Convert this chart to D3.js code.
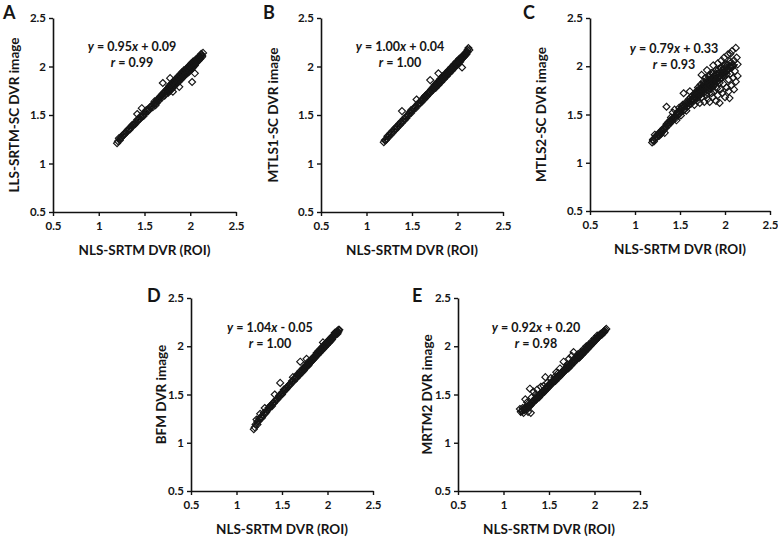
<!DOCTYPE html>
<html><head><meta charset="utf-8">
<script src="https://cdn.jsdelivr.net/npm/d3@7/dist/d3.min.js"></script>
<style>
body{margin:0;background:#fff;}
svg{display:block;}
text{font-family:Lato,"Open Sans",sans-serif;fill:#151515;}
</style></head>
<body>
<script>
// ---------- data ----------
const tickValues = [0.5, 1, 1.5, 2, 2.5];
const tickLabels = ["0.5", "1", "1.5", "2", "2.5"];
const xTitle = "NLS-SRTM DVR (ROI)";
const panelLetters = ["A", "B", "C", "D", "E"];
const yTitles = ["LLS-SRTM-SC DVR image", "MTLS1-SC DVR image", "MTLS2-SC DVR image", "BFM DVR image", "MRTM2 DVR image"];
const slopes = ["0.95", "1.00", "0.79", "1.04", "0.92"];
const intercepts = ["+ 0.09", "+ 0.04", "+ 0.33", "- 0.05", "+ 0.20"];
const rValues = ["0.99", "1.00", "0.93", "1.00", "0.98"];
const fitRangeX = [[1.20, 2.14], [1.19, 2.13], [1.19, 2.14], [1.19, 2.13], [1.18, 2.13]];

const pointsA = [[1.20,1.21],[1.21,1.23],[1.23,1.24],[1.25,1.27],[1.26,1.29],[1.28,1.30],[1.30,1.32],[1.31,1.34],[1.33,1.35],[1.35,1.37],[1.36,1.39],[1.38,1.40],[1.40,1.41],[1.41,1.43],[1.42,1.51],[1.43,1.45],[1.45,1.46],[1.46,1.48],[1.47,1.57],[1.48,1.49],[1.50,1.51],[1.51,1.53],[1.53,1.54],[1.55,1.56],[1.56,1.58],[1.58,1.59],[1.60,1.61],[1.61,1.62],[1.62,1.60],[1.63,1.64],[1.65,1.66],[1.66,1.67],[1.68,1.69],[1.69,1.71],[1.70,1.83],[1.71,1.72],[1.72,1.70],[1.73,1.74],[1.74,1.76],[1.75,1.75],[1.76,1.78],[1.77,1.76],[1.78,1.88],[1.78,1.79],[1.79,1.78],[1.80,1.81],[1.80,1.79],[1.81,1.74],[1.81,1.82],[1.82,1.81],[1.83,1.83],[1.83,1.85],[1.84,1.84],[1.85,1.86],[1.85,1.83],[1.86,1.85],[1.87,1.88],[1.87,1.86],[1.88,1.87],[1.88,1.79],[1.89,1.89],[1.89,1.91],[1.90,1.88],[1.91,1.90],[1.91,1.92],[1.92,1.91],[1.93,1.93],[1.94,1.92],[1.94,1.95],[1.95,1.94],[1.96,1.96],[1.97,1.95],[1.97,1.98],[1.98,1.97],[1.99,1.99],[2.00,1.98],[2.00,2.01],[2.01,2.00],[2.02,1.84],[2.02,2.02],[2.03,2.01],[2.04,2.04],[2.05,1.93],[2.05,2.03],[2.06,2.05],[2.07,2.06],[2.08,2.07],[2.09,2.09],[2.10,2.08],[2.11,2.10],[2.12,2.12],[2.13,2.11],[2.14,2.14],
[1.22,1.26],[1.24,1.26],[1.27,1.30],[1.29,1.31],[1.32,1.35],[1.34,1.35],[1.37,1.40],[1.39,1.40],[1.42,1.45],[1.44,1.45],[1.46,1.49],[1.49,1.49],[1.52,1.55],[1.54,1.54],[1.57,1.59],[1.59,1.58],[1.61,1.64],[1.63,1.62],[1.64,1.66],[1.66,1.65],[1.67,1.69],[1.69,1.68],[1.70,1.72],[1.72,1.74],[1.73,1.72],[1.75,1.77],[1.76,1.74],[1.77,1.79],[1.79,1.80],[1.80,1.78],[1.82,1.83],[1.82,1.79],[1.84,1.86],[1.84,1.82],[1.86,1.87],[1.86,1.84],[1.88,1.89],[1.88,1.86],[1.90,1.91],[1.90,1.87],[1.92,1.93],[1.92,1.89],[1.93,1.95],[1.95,1.92],[1.96,1.97],[1.97,1.94],[1.98,1.99],[1.99,1.96],[2.00,2.00],[2.01,1.98],[2.02,2.03],[2.03,2.00],[2.04,2.05],[2.05,2.02],[2.06,2.07],[2.07,2.04],[2.08,2.09],[2.09,2.06],[2.10,2.10],[2.11,2.08],[2.12,2.13],[2.13,2.10],[1.76,1.73],[1.78,1.75],[1.80,1.77],[1.81,1.79],[1.83,1.81],[1.85,1.82],[1.87,1.84],[1.89,1.86],[1.91,1.88],[1.93,1.90],[1.95,1.92],[1.97,1.93],[1.99,1.95],[2.01,1.97],[2.03,1.99],[2.05,2.01],[1.77,1.80],[1.79,1.82],[1.81,1.84],[1.83,1.86],[1.85,1.88],[1.87,1.90],[1.89,1.92],[1.91,1.94],[1.93,1.96],[1.95,1.97],[1.97,1.99],[1.99,2.01],[2.01,2.03],[2.03,2.05]];

const pointsB = [[1.19,1.22],[1.20,1.24],[1.22,1.25],[1.23,1.28],[1.25,1.29],[1.27,1.30],[1.28,1.33],[1.30,1.34],[1.32,1.35],[1.33,1.38],[1.35,1.39],[1.37,1.40],[1.38,1.43],[1.39,1.54],[1.40,1.44],[1.42,1.45],[1.43,1.48],[1.45,1.49],[1.46,1.50],[1.48,1.53],[1.49,1.55],[1.50,1.54],[1.52,1.57],[1.53,1.58],[1.55,1.66],[1.55,1.59],[1.57,1.62],[1.58,1.62],[1.60,1.64],[1.61,1.66],[1.63,1.66],[1.64,1.69],[1.65,1.70],[1.66,1.69],[1.68,1.73],[1.69,1.73],[1.70,1.86],[1.70,1.74],[1.71,1.76],[1.72,1.75],[1.73,1.78],[1.74,1.78],[1.75,1.80],[1.76,1.79],[1.77,1.82],[1.78,1.82],[1.79,1.93],[1.79,1.83],[1.80,1.85],[1.81,1.84],[1.82,1.87],[1.83,1.86],[1.84,1.89],[1.85,1.88],[1.86,1.91],[1.87,1.90],[1.88,1.93],[1.89,1.92],[1.90,1.95],[1.91,1.94],[1.92,1.97],[1.93,1.96],[1.94,1.99],[1.95,1.98],[1.96,2.01],[1.97,2.00],[1.98,2.03],[1.99,2.02],[2.00,2.05],[2.01,2.04],[2.02,2.07],[2.03,2.06],[2.04,2.09],[2.05,1.99],[2.05,2.08],[2.06,2.11],[2.07,2.10],[2.08,2.13],[2.09,2.12],[2.10,2.15],[2.11,2.15],[2.12,2.19],[2.13,2.17],
[1.21,1.24],[1.24,1.27],[1.26,1.31],[1.29,1.32],[1.31,1.36],[1.34,1.37],[1.36,1.41],[1.39,1.42],[1.41,1.46],[1.44,1.47],[1.47,1.52],[1.49,1.52],[1.51,1.56],[1.54,1.57],[1.56,1.61],[1.59,1.62],[1.61,1.64],[1.62,1.67],[1.64,1.67],[1.65,1.70],[1.67,1.70],[1.68,1.73],[1.70,1.73],[1.71,1.76],[1.72,1.77],[1.73,1.76],[1.74,1.79],[1.75,1.78],[1.76,1.81],[1.77,1.80],[1.78,1.83],[1.79,1.82],[1.80,1.83],[1.81,1.86],[1.82,1.85],[1.83,1.88],[1.84,1.87],[1.85,1.90],[1.86,1.89],[1.87,1.92],[1.88,1.91],[1.89,1.94],[1.90,1.93],[1.91,1.96],[1.92,1.95],[1.93,1.98],[1.94,1.97],[1.95,2.00],[1.96,1.99],[1.97,2.02],[1.98,2.01],[1.99,2.04],[2.00,2.03],[2.01,2.06],[2.02,2.05],[2.03,2.08],[2.04,2.07],[2.05,2.10],[2.06,2.09],[2.07,2.12],[2.08,2.11],[2.09,2.14],[2.10,2.13],[2.11,2.17],[1.75,1.81],[1.78,1.84],[1.81,1.87],[1.84,1.90],[1.87,1.93],[1.90,1.96],[1.93,1.99],[1.96,2.02],[1.99,2.05],[2.02,2.08],[1.76,1.78],[1.79,1.81],[1.82,1.84],[1.85,1.87],[1.88,1.90],[1.91,1.93],[1.94,1.96],[1.97,1.99],[2.00,2.02],[2.03,2.05]];

const pointsC = [[1.19,1.21],[1.20,1.24],[1.21,1.22],[1.22,1.29],[1.23,1.26],[1.25,1.27],[1.26,1.30],[1.27,1.28],[1.28,1.32],[1.29,1.30],[1.30,1.34],[1.31,1.33],[1.32,1.36],[1.33,1.31],[1.34,1.37],[1.35,1.40],[1.35,1.58],[1.36,1.38],[1.37,1.42],[1.38,1.40],[1.39,1.44],[1.40,1.47],[1.40,1.42],[1.41,1.43],[1.42,1.52],[1.43,1.46],[1.44,1.55],[1.45,1.48],[1.45,1.46],[1.46,1.44],[1.47,1.52],[1.48,1.50],[1.49,1.57],[1.50,1.53],[1.50,1.51],[1.51,1.49],[1.52,1.56],[1.53,1.60],[1.54,1.72],[1.54,1.55],[1.55,1.58],[1.55,1.55],[1.56,1.62],[1.57,1.54],[1.58,1.63],[1.58,1.58],[1.59,1.59],[1.60,1.66],[1.61,1.74],[1.61,1.61],[1.62,1.68],[1.62,1.61],[1.63,1.64],[1.64,1.70],[1.65,1.66],[1.66,1.60],[1.66,1.65],[1.67,1.72],[1.68,1.68],[1.69,1.75],[1.69,1.64],[1.70,1.78],[1.70,1.68],[1.71,1.70],[1.72,1.62],[1.72,1.74],[1.73,1.81],[1.73,1.71],[1.74,1.91],[1.74,1.68],[1.75,1.76],[1.76,1.72],[1.76,1.84],[1.76,1.75],[1.77,1.63],[1.77,1.79],[1.78,1.74],[1.78,1.88],[1.79,1.70],[1.79,1.77],[1.80,1.96],[1.80,1.78],[1.80,1.73],[1.81,1.66],[1.81,1.83],[1.82,1.75],[1.82,1.90],[1.82,1.80],[1.83,1.63],[1.83,1.80],[1.84,1.86],[1.84,1.79],[1.85,1.72],[1.85,1.93],[1.85,1.82],[1.86,1.78],[1.86,1.68],[1.87,2.01],[1.87,1.84],[1.87,1.80],[1.88,1.74],[1.88,1.90],[1.88,1.85],[1.89,1.81],[1.89,1.86],[1.90,1.64],[1.90,1.96],[1.91,1.86],[1.91,1.77],[1.91,1.88],[1.92,2.03],[1.92,1.70],[1.93,1.89],[1.94,1.62],[1.94,1.83],[1.94,1.90],[1.95,1.98],[1.95,1.76],[1.96,2.06],[1.96,1.88],[1.97,1.72],[1.97,1.92],[1.98,1.94],[1.98,1.82],[1.99,2.09],[2.00,1.68],[2.00,1.90],[2.00,1.95],[2.01,2.02],[2.02,1.78],[2.02,1.95],[2.03,2.12],[2.03,1.97],[2.04,1.74],[2.04,1.86],[2.05,2.05],[2.05,1.67],[2.06,2.13],[2.06,1.92],[2.06,2.00],[2.07,1.80],[2.08,1.99],[2.08,2.16],[2.09,1.88],[2.10,2.06],[2.10,1.76],[2.11,1.95],[2.12,2.19],[2.12,1.84],[2.13,2.09],[2.14,1.90],[2.14,2.02],
[1.20,1.23],[1.22,1.25],[1.24,1.27],[1.26,1.28],[1.28,1.30],[1.30,1.32],[1.32,1.34],[1.34,1.36],[1.36,1.40],[1.38,1.42],[1.40,1.44],[1.42,1.46],[1.44,1.48],[1.46,1.50],[1.48,1.53],[1.50,1.55],[1.52,1.58],[1.54,1.58],[1.56,1.60],[1.58,1.61],[1.60,1.63],[1.62,1.65],[1.64,1.67],[1.66,1.68],[1.67,1.70],[1.68,1.72],[1.70,1.73],[1.71,1.75],[1.72,1.77],[1.73,1.74],[1.74,1.77],[1.75,1.79],[1.76,1.78],[1.77,1.81],[1.78,1.80],[1.79,1.83],[1.80,1.81],[1.81,1.85],[1.82,1.82],[1.83,1.86],[1.84,1.83],[1.85,1.87],[1.86,1.84],[1.87,1.88],[1.88,1.87],[1.89,1.90],[1.90,1.86],[1.91,1.91],[1.92,1.88],[1.93,1.93],[1.94,1.87],[1.95,1.94],[1.96,1.91],[1.97,1.96],[1.98,1.90],[1.99,1.97],[2.00,1.93],[2.01,1.99],[2.02,1.92],[2.03,2.02],[2.04,1.97],[2.05,2.00],[2.07,2.04],[2.09,2.01],[1.76,1.82],[1.79,1.77],[1.82,1.78],[1.85,1.80],[1.88,1.83],[1.91,1.84],[1.84,1.91],[1.87,1.93],[1.90,1.92],[1.93,1.97],[1.96,1.98],[1.99,2.01],[1.80,1.86],[1.78,1.76],[1.72,1.71],[1.69,1.69],[1.65,1.66]];

const pointsD = [[1.19,1.14],[1.20,1.16],[1.22,1.24],[1.23,1.19],[1.24,1.22],[1.26,1.30],[1.26,1.25],[1.28,1.26],[1.29,1.28],[1.31,1.36],[1.31,1.30],[1.33,1.32],[1.34,1.34],[1.36,1.36],[1.37,1.37],[1.38,1.39],[1.40,1.41],[1.41,1.41],[1.42,1.50],[1.43,1.44],[1.44,1.45],[1.46,1.47],[1.47,1.48],[1.48,1.62],[1.49,1.50],[1.50,1.52],[1.52,1.53],[1.53,1.55],[1.55,1.56],[1.56,1.58],[1.58,1.60],[1.59,1.61],[1.61,1.63],[1.62,1.68],[1.62,1.64],[1.64,1.66],[1.65,1.67],[1.66,1.68],[1.67,1.70],[1.68,1.70],[1.69,1.71],[1.70,1.84],[1.70,1.72],[1.71,1.73],[1.72,1.74],[1.73,1.76],[1.74,1.76],[1.75,1.77],[1.76,1.79],[1.77,1.87],[1.77,1.79],[1.78,1.81],[1.79,1.81],[1.80,1.82],[1.81,1.84],[1.82,1.84],[1.83,1.86],[1.84,1.86],[1.85,1.88],[1.86,1.88],[1.87,1.90],[1.88,1.91],[1.89,1.92],[1.90,1.93],[1.91,1.94],[1.92,1.95],[1.93,1.96],[1.94,1.97],[1.95,2.04],[1.95,1.98],[1.96,1.99],[1.97,2.00],[1.98,2.01],[1.99,2.02],[2.00,2.03],[2.01,2.04],[2.02,2.05],[2.03,2.06],[2.04,2.07],[2.05,2.09],[2.06,2.10],[2.07,2.11],[2.08,2.12],[2.09,2.13],[2.10,2.14],[2.11,2.15],[2.12,2.15],[2.13,2.17],
[1.21,1.19],[1.23,1.22],[1.25,1.25],[1.27,1.27],[1.30,1.31],[1.32,1.31],[1.35,1.36],[1.37,1.38],[1.39,1.38],[1.42,1.43],[1.45,1.45],[1.47,1.49],[1.50,1.50],[1.52,1.55],[1.54,1.55],[1.57,1.59],[1.59,1.60],[1.61,1.64],[1.63,1.64],[1.64,1.67],[1.66,1.67],[1.67,1.71],[1.69,1.70],[1.70,1.74],[1.72,1.73],[1.73,1.77],[1.74,1.75],[1.75,1.79],[1.76,1.78],[1.78,1.83],[1.79,1.80],[1.80,1.84],[1.81,1.83],[1.82,1.86],[1.83,1.85],[1.84,1.88],[1.85,1.87],[1.86,1.90],[1.87,1.89],[1.88,1.93],[1.89,1.91],[1.90,1.95],[1.91,1.93],[1.92,1.97],[1.93,1.95],[1.94,1.99],[1.95,1.97],[1.96,2.01],[1.97,1.99],[1.98,2.03],[1.99,2.01],[2.00,2.05],[2.01,2.03],[2.02,2.07],[2.03,2.05],[2.04,2.09],[2.05,2.07],[2.06,2.11],[2.07,2.10],[2.08,2.14],[2.09,2.12],[2.10,2.15],[2.11,2.13],[2.12,2.17],[1.77,1.80],[1.80,1.83],[1.83,1.87],[1.86,1.89],[1.89,1.93],[1.92,1.96],[1.95,1.99],[1.98,2.02],[2.01,2.05],[2.04,2.08]];

const pointsE = [[1.18,1.35],[1.20,1.33],[1.21,1.36],[1.22,1.31],[1.23,1.34],[1.24,1.45],[1.25,1.35],[1.26,1.37],[1.27,1.32],[1.28,1.38],[1.29,1.56],[1.29,1.40],[1.30,1.31],[1.30,1.39],[1.31,1.41],[1.32,1.42],[1.33,1.53],[1.33,1.43],[1.34,1.44],[1.35,1.46],[1.36,1.45],[1.37,1.55],[1.37,1.47],[1.38,1.48],[1.39,1.49],[1.40,1.50],[1.41,1.58],[1.41,1.51],[1.42,1.52],[1.43,1.53],[1.44,1.54],[1.46,1.68],[1.45,1.54],[1.46,1.56],[1.47,1.57],[1.48,1.58],[1.49,1.59],[1.50,1.60],[1.51,1.61],[1.52,1.67],[1.52,1.62],[1.53,1.63],[1.54,1.64],[1.55,1.64],[1.56,1.65],[1.57,1.66],[1.58,1.73],[1.58,1.68],[1.59,1.68],[1.60,1.69],[1.61,1.70],[1.62,1.77],[1.62,1.71],[1.63,1.72],[1.64,1.73],[1.65,1.74],[1.66,1.84],[1.66,1.75],[1.67,1.76],[1.68,1.77],[1.69,1.78],[1.70,1.78],[1.71,1.79],[1.72,1.87],[1.72,1.80],[1.73,1.81],[1.74,1.82],[1.75,1.90],[1.75,1.83],[1.76,1.84],[1.77,1.94],[1.77,1.85],[1.78,1.86],[1.79,1.87],[1.80,1.88],[1.81,1.89],[1.82,1.90],[1.83,1.90],[1.84,1.91],[1.85,1.92],[1.86,1.93],[1.87,1.94],[1.88,1.95],[1.89,1.96],[1.90,1.97],[1.91,1.98],[1.92,1.99],[1.93,2.00],[1.94,2.00],[1.95,2.01],[1.96,2.02],[1.97,2.03],[1.98,2.04],[1.99,2.05],[2.00,2.06],[2.01,2.07],[2.02,2.08],[2.03,2.09],[2.04,2.10],[2.05,2.11],[2.06,2.12],[2.07,2.13],[2.08,2.13],[2.09,2.14],[2.10,2.15],[2.11,2.16],[2.12,2.17],[2.13,2.18],
[1.19,1.32],[1.21,1.33],[1.23,1.36],[1.25,1.37],[1.27,1.38],[1.29,1.38],[1.31,1.42],[1.33,1.42],[1.35,1.44],[1.37,1.46],[1.39,1.47],[1.41,1.50],[1.43,1.51],[1.45,1.53],[1.47,1.55],[1.49,1.57],[1.51,1.59],[1.53,1.61],[1.55,1.63],[1.57,1.64],[1.59,1.67],[1.61,1.68],[1.63,1.70],[1.65,1.72],[1.66,1.73],[1.68,1.75],[1.69,1.76],[1.71,1.77],[1.72,1.78],[1.74,1.80],[1.75,1.81],[1.77,1.83],[1.78,1.84],[1.80,1.86],[1.81,1.87],[1.83,1.88],[1.84,1.89],[1.86,1.91],[1.87,1.92],[1.89,1.94],[1.90,1.95],[1.92,1.97],[1.93,1.98],[1.95,2.00],[1.96,2.01],[1.98,2.03],[1.99,2.04],[2.01,2.06],[2.02,2.07],[2.04,2.09],[2.05,2.10],[2.07,2.12],[2.08,2.12],[2.10,2.14],[2.11,2.15],[1.76,1.85],[1.79,1.88],[1.82,1.92],[1.85,1.94],[1.88,1.97],[1.91,2.00],[1.94,2.02],[1.97,2.05],[2.00,2.08],[2.03,2.11],[1.60,1.72],[1.70,1.81],[1.56,1.68],[1.48,1.62],[1.44,1.59],[1.35,1.50],[1.31,1.47],[1.26,1.42]];

const allPoints = [pointsA, pointsB, pointsC, pointsD, pointsE];

// ---------- layout ----------
const layout = [
  {x0:53,  x1:236, yT:18,  yB:212, letter:[3,19],    yt:14,  eq:[132,51]},
  {x0:321, x1:503, yT:18,  yB:212, letter:[263,19],  yt:273, eq:[400,51]},
  {x0:590, x1:770, yT:18,  yB:211, letter:[523,19],  yt:541, eq:[674,53]},
  {x0:191, x1:373, yT:298, yB:491, letter:[147,302], yt:161, eq:[270,332]},
  {x0:458, x1:640, yT:298, yB:491, letter:[412,302], yt:427, eq:[536,332]}
];

const W = 778, H = 538;
const svg = d3.select("body").append("svg").attr("width", W).attr("height", H);
const diamond = "M0,-3.5L3.5,0L0,3.5L-3.5,0Z";
const fmt = d => tickLabels[tickValues.indexOf(d)];

layout.forEach((L, i) => {
  const x = d3.scaleLinear().domain([0.5, 2.5]).range([L.x0, L.x1]);
  const y = d3.scaleLinear().domain([0.5, 2.5]).range([L.yB, L.yT]);
  const g = svg.append("g");

  // fit line
  const m = +slopes[i], b = +intercepts[i].replace(/\s/g, "");
  const fr = fitRangeX[i];
  g.append("line")
    .attr("x1", x(fr[0])).attr("y1", y(m * fr[0] + b))
    .attr("x2", x(fr[1])).attr("y2", y(m * fr[1] + b))
    .attr("stroke", "#000").attr("stroke-width", 1.6);

  // points
  g.append("g").selectAll("path").data(allPoints[i]).join("path")
    .attr("d", diamond)
    .attr("transform", d => `translate(${x(d[0])},${y(d[1])})`)
    .attr("fill", "none").attr("stroke", "#161616").attr("stroke-width", 1.15);

  // axes
  const ax = g.append("g").attr("transform", `translate(0,${L.yB})`)
    .call(d3.axisBottom(x).tickValues(tickValues).tickFormat(fmt).tickSize(4).tickSizeOuter(0));
  const ay = g.append("g").attr("transform", `translate(${L.x0},0)`)
    .call(d3.axisLeft(y).tickValues(tickValues).tickFormat(fmt).tickSize(4).tickSizeOuter(0));
  [ax, ay].forEach(a => {
    a.select(".domain").attr("stroke", "#111").attr("stroke-width", 1.6);
    a.selectAll(".tick line").attr("stroke", "#111").attr("stroke-width", 1.4);
    a.selectAll(".tick text").attr("font-family", "Lato, sans-serif").attr("font-size", 11.5)
      .attr("font-weight", 700).attr("fill", "#1a1a1a");
  });
  ax.selectAll(".tick text").attr("dy", "0").attr("y", 18);
  ay.selectAll(".tick text").attr("x", -7);

  // x title
  g.append("text").attr("x", (L.x0 + L.x1) / 2).attr("y", L.yB + 43)
    .attr("text-anchor", "middle").attr("font-size", 13.5).attr("font-weight", 700).text(xTitle);
  // y title
  g.append("text").attr("transform", `translate(${L.yt},${(L.yT + L.yB) / 2}) rotate(-90)`)
    .attr("text-anchor", "middle").attr("dy", "0.35em")
    .attr("font-size", 13.5).attr("font-weight", 700).text(yTitles[i]);
  // letter
  g.append("text").attr("x", L.letter[0]).attr("y", L.letter[1])
    .attr("font-family", "'Liberation Sans', Arial, sans-serif")
    .attr("font-size", 18).attr("font-weight", 700).attr("fill", "#000").text(panelLetters[i]);
  // equation
  const t1 = g.append("text").attr("x", L.eq[0]).attr("y", L.eq[1])
    .attr("text-anchor", "middle").attr("font-size", 12.5).attr("font-weight", 700);
  t1.append("tspan").attr("font-style", "italic").text("y");
  t1.append("tspan").text(" = " + slopes[i]);
  t1.append("tspan").attr("font-style", "italic").text("x");
  t1.append("tspan").text(" " + intercepts[i]);
  const t2 = g.append("text").attr("x", L.eq[0]).attr("y", L.eq[1] + 16)
    .attr("text-anchor", "middle").attr("font-size", 12.5).attr("font-weight", 700);
  t2.append("tspan").attr("font-style", "italic").text("r");
  t2.append("tspan").text(" = " + rValues[i]);
});
</script>
</body></html>
